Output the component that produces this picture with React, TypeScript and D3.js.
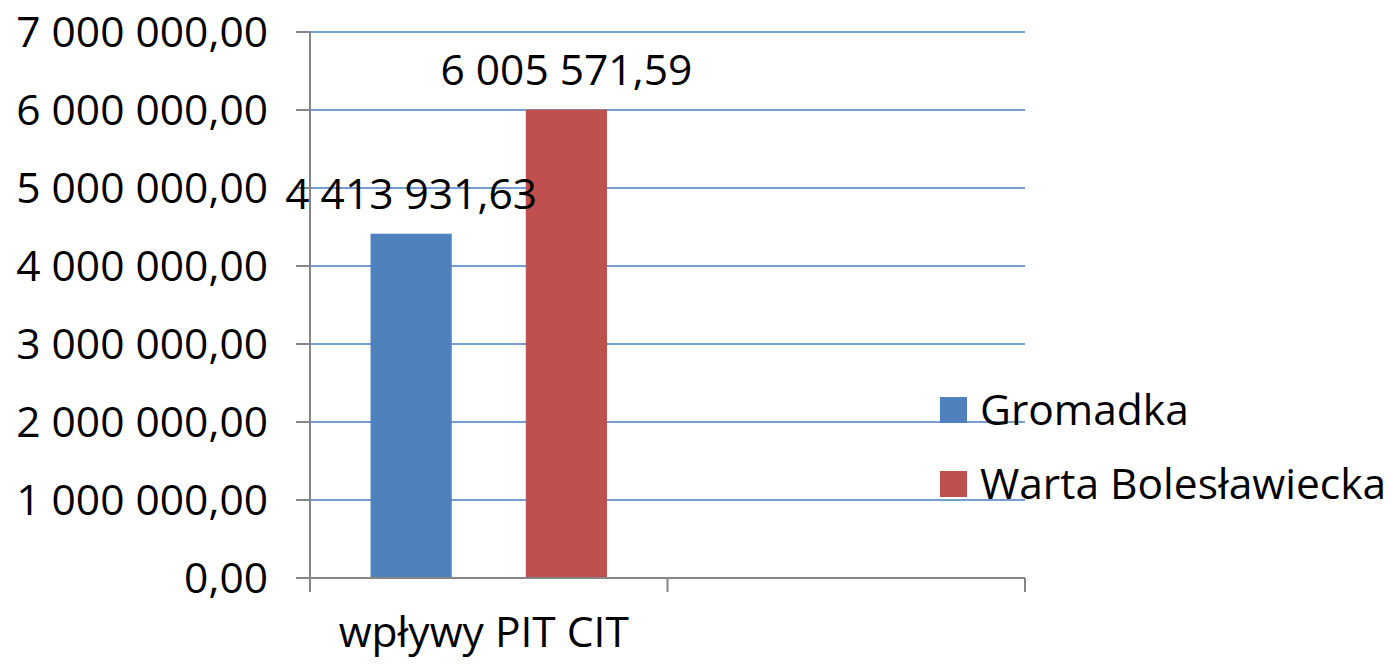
import React from "react";
import * as d3 from "d3";

const categories = ["wpływy PIT CIT", ""];
const seriesNames = ["Gromadka", "Warta Bolesławiecka"];
const gromadka = [4413931.63, null];
const warta = [6005571.59, null];
const yTicks = [0, 1000000, 2000000, 3000000, 4000000, 5000000, 6000000, 7000000];
const colors = ["#4F81BD", "#C0504D"];

const W = 1391;
const H = 664;
const FONT = "'Open Sans', sans-serif";

function fmt(v: number): string {
  const parts = v.toFixed(2).split(".");
  const intPart = parts[0].replace(/\B(?=(\d{3})+(?!\d))/g, " ");
  return intPart + "," + parts[1];
}

export default function App() {
  const x0 = d3.scaleBand<string>().domain(categories.map((c, i) => String(i))).range([310, 1025]).padding(0);
  const x1 = d3
    .scaleBand<string>()
    .domain(seriesNames)
    .range([0, x0.bandwidth()])
    .paddingInner(0.477)
    .paddingOuter(0.39);
  const y = d3.scaleLinear().domain([0, 7000000]).range([578, 32]);
  const series = [gromadka, warta];

  const tickXs = [...categories.map((c, i) => x0(String(i))!), 1025];

  const bars: { si: number; ci: number; v: number; bx: number; bw: number }[] = [];
  series.forEach((vals, si) =>
    vals.forEach((v, ci) => {
      if (v == null) return;
      bars.push({ si, ci, v, bx: x0(String(ci))! + x1(seriesNames[si])!, bw: x1.bandwidth() });
    })
  );

  return (
    <div style={{ position: "fixed", left: 0, top: 0 }}>
      <svg width={W} height={H} style={{ display: "block", background: "#fff" }}>
        {yTicks.map((t) => (
          <g key={t}>
            {t > 0 && (
              <line x1={310} x2={1025} y1={y(t)} y2={y(t)} stroke="#4A7EBB" strokeWidth={1.5} />
            )}
            <line x1={296} x2={310} y1={y(t)} y2={y(t)} stroke="#868686" strokeWidth={2} />
            <text
              x={268}
              y={y(t)}
              dy="0.36em"
              textAnchor="end"
              fontFamily={FONT}
              fontSize={42.5}
              fill="#000"
            >
              {fmt(t)}
            </text>
          </g>
        ))}
        {bars.map((b) => (
          <rect
            key={"r" + b.si + "-" + b.ci}
            x={b.bx}
            y={y(b.v)}
            width={b.bw}
            height={y(0) - y(b.v)}
            fill={colors[b.si]}
          />
        ))}
        <line x1={310} x2={310} y1={32} y2={578} stroke="#868686" strokeWidth={2} />
        <line x1={296} x2={1025} y1={578} y2={578} stroke="#868686" strokeWidth={2} />
        {tickXs.map((tx, i) => (
          <line key={i} x1={tx} x2={tx} y1={578} y2={592} stroke="#868686" strokeWidth={2} />
        ))}
        {bars.map((b) => (
          <text
            key={"t" + b.si + "-" + b.ci}
            x={b.bx + b.bw / 2}
            y={y(b.v) - 25}
            textAnchor="middle"
            fontFamily={FONT}
            fontSize={42.5}
            fill="#000"
          >
            {fmt(b.v)}
          </text>
        ))}
        {categories.map((c, i) => (
          <text
            key={i}
            x={x0(String(i))! + x0.bandwidth() / 2 - 5}
            y={647}
            textAnchor="middle"
            fontFamily={FONT}
            fontSize={42.5}
            fill="#000"
          >
            {c}
          </text>
        ))}
        {seriesNames.map((s, i) => (
          <g key={s}>
            <rect x={940} y={397 + i * 74} width={27} height={26} fill={colors[i]} />
            <text x={980} y={410 + i * 74} dy="0.36em" fontFamily={FONT} fontSize={42.5} fill="#000">
              {s}
            </text>
          </g>
        ))}
      </svg>
    </div>
  );
}
